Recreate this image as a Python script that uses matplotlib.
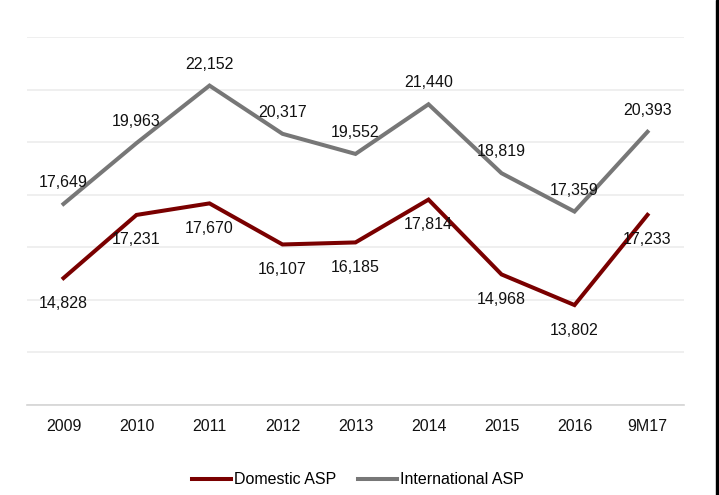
import matplotlib.pyplot as plt
from matplotlib.patches import Rectangle

# Average selling price by period
periods = ['2009', '2010', '2011', '2012', '2013', '2014', '2015', '2016', '9M17']
domestic_asp = [14828, 17231, 17670, 16107, 16185, 17814, 14968, 13802, 17233]
international_asp = [17649, 19963, 22152, 20317, 19552, 21440, 18819, 17359, 20393]

DOMESTIC_COLOR = '#7a0000'
INTL_COLOR = '#777777'

plt.rcParams['font.family'] = ['Liberation Sans', 'DejaVu Sans']
plt.rcParams['font.size'] = 11.5

fig = plt.figure(figsize=(7.19, 4.95), dpi=100)
ax = fig.add_axes([27 / 719, 90 / 495, 657 / 719, 368 / 495])

x = list(range(len(periods)))
ax.plot(x, domestic_asp, color=DOMESTIC_COLOR, lw=2.9, label='Domestic ASP',
        solid_joinstyle='miter', zorder=3)
ax.plot(x, international_asp, color=INTL_COLOR, lw=2.9, label='International ASP',
        solid_joinstyle='miter', zorder=3)

# value labels: international above the line, domestic below
for xi, v in zip(x, international_asp):
    ax.annotate(f'{v:,}', (xi, v), xytext=(0, 15.5), textcoords='offset points',
                ha='center', va='center', color='#111111', zorder=4)
for xi, v in zip(x, domestic_asp):
    ax.annotate(f'{v:,}', (xi, v), xytext=(0, -18), textcoords='offset points',
                ha='center', va='center', color='#111111', zorder=4)

ax.set_xlim(-0.5, len(periods) - 0.5)
ax.set_ylim(10000, 24000)
ax.set_yticks(range(10000, 24001, 2000))
ax.set_xticks(x)
ax.set_xticklabels(periods)
ax.tick_params(axis='x', length=0, pad=10, colors='#111111')
ax.tick_params(axis='y', length=0, labelleft=False)
ax.grid(axis='y', color='#ececec', lw=1.2, zorder=0)
for side in ['top', 'right', 'left']:
    ax.spines[side].set_visible(False)
ax.spines['bottom'].set_color('#d4d4d4')
ax.spines['bottom'].set_linewidth(1.2)

fig.legend(loc='center', bbox_to_anchor=(358 / 719, 1 - 480 / 495), ncol=2,
           frameon=False, handlelength=2.4, handletextpad=0.2, columnspacing=1.4)

# black edge on the right side of the canvas
fig.patches.append(Rectangle((716 / 719, 0), 3 / 719, 1, transform=fig.transFigure,
                             color='black', zorder=10))

fig.savefig('out.png', dpi=100)
